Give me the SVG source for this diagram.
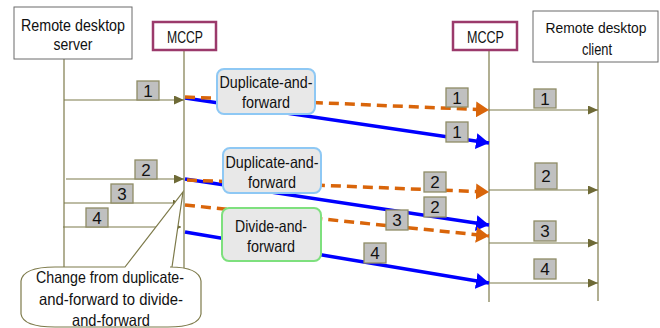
<svg xmlns="http://www.w3.org/2000/svg" width="660" height="328" viewBox="0 0 660 328">
<defs>
<style>
text{font-family:"Liberation Sans Narrow","Liberation Sans",Arial,sans-serif;fill:#111;text-anchor:middle}
.t{font-size:16.5px}
.n{font-size:17px}
.life{stroke:#7d7a4a;stroke-width:1.2;fill:none}
.msg{stroke:#7d7a4a;stroke-width:1.2;fill:none}
.ent{fill:#fff;stroke:#6b6b6b;stroke-width:1}
.mccp{fill:#fff;stroke:#9b3a6b;stroke-width:2.5}
.num{fill:#c0c0c0;stroke:#8f8c66;stroke-width:1.3}
.blue{stroke:#0000ff;stroke-width:3.5;fill:none}
.orange{stroke:#d9650a;stroke-width:3.5;fill:none;stroke-dasharray:10 6}
.mode{fill:#e8e8e8;stroke-width:2}
</style>
<marker id="ao" markerUnits="userSpaceOnUse" markerWidth="14" markerHeight="16" refX="13" refY="8" orient="auto"><path d="M0,0 L13,8 L0,16 Z" fill="#d9650a"/></marker>
<marker id="ab" markerUnits="userSpaceOnUse" markerWidth="14" markerHeight="16" refX="13" refY="8" orient="auto"><path d="M0,0 L13,8 L0,16 Z" fill="#0000ff"/></marker>
<marker id="ag" markerUnits="userSpaceOnUse" markerWidth="11" markerHeight="9" refX="10" refY="4.5" orient="auto"><path d="M0,0 L10,4.5 L0,9 Z" fill="#6e6a36"/></marker>
<marker id="as" markerUnits="userSpaceOnUse" markerWidth="7" markerHeight="7" refX="6" refY="3.5" orient="auto"><path d="M0,0 L6,3.5 L0,7 Z" fill="#6e6a36"/></marker>
</defs>

<g id="lifelines">
<line class="life" x1="64" y1="59" x2="64" y2="268"/>
<line class="life" x1="184" y1="50" x2="184" y2="268"/>
<line class="life" x1="489" y1="50" x2="489" y2="302"/>
<line class="life" x1="598" y1="62" x2="598" y2="301"/>
</g>

<g id="server"><rect class="ent" x="14" y="7" width="118" height="52"/><text class="t" x="73" y="31" textLength="104" lengthAdjust="spacingAndGlyphs">Remote desktop</text><text class="t" x="73" y="50" textLength="39" lengthAdjust="spacingAndGlyphs">server</text></g>
<g id="mccp-left"><rect class="mccp" x="153" y="22" width="63" height="28"/><text class="t" x="185" y="43" textLength="36" lengthAdjust="spacingAndGlyphs">MCCP</text></g>
<g id="mccp-right"><rect class="mccp" x="453" y="22" width="64" height="28"/><text class="t" x="485.5" y="43" textLength="37" lengthAdjust="spacingAndGlyphs">MCCP</text></g>
<g id="client"><rect class="ent" x="533" y="11" width="125" height="51"/><text x="596" y="33" font-size="15.5" textLength="101" lengthAdjust="spacingAndGlyphs">Remote desktop</text><text class="t" x="597" y="55" textLength="30" lengthAdjust="spacingAndGlyphs">client</text></g>

<g id="connectors">
<line class="msg" x1="64" y1="100" x2="184" y2="100" marker-end="url(#ag)"/>
<line class="msg" x1="66" y1="179" x2="184" y2="179" marker-end="url(#ag)"/>
<line class="msg" x1="64" y1="203" x2="179" y2="203" marker-end="url(#as)"/>
<line class="msg" x1="63" y1="227" x2="181" y2="227" marker-end="url(#as)"/>
<line class="msg" x1="489" y1="110" x2="598" y2="110" marker-end="url(#ag)"/>
<line class="msg" x1="489" y1="190" x2="598" y2="190" marker-end="url(#ag)"/>
<line class="msg" x1="489" y1="243" x2="598" y2="243" marker-end="url(#ag)"/>
<line class="msg" x1="489" y1="283" x2="598" y2="283" marker-end="url(#ag)"/>
<line class="blue" x1="185" y1="98" x2="489" y2="143" marker-end="url(#ab)"/>
<line class="orange" x1="185" y1="97" x2="489" y2="110" marker-end="url(#ao)"/>
<line class="blue" x1="185" y1="179" x2="489" y2="225" marker-end="url(#ab)"/>
<line class="orange" x1="187" y1="180" x2="489" y2="192" marker-end="url(#ao)"/>
<line class="orange" x1="185" y1="205" x2="489" y2="236" marker-end="url(#ao)"/>
<line class="blue" x1="185" y1="232" x2="489" y2="283" marker-end="url(#ab)"/>
</g>

<g id="labels">
<rect class="num" x="137" y="81" width="22" height="19"/><text class="n" x="148" y="97">1</text>
<rect class="num" x="135" y="160" width="22" height="19"/><text class="n" x="146" y="176">2</text>
<rect class="num" x="111" y="184" width="22" height="19"/><text class="n" x="122" y="200">3</text>
<rect class="num" x="86" y="208" width="22" height="19"/><text class="n" x="97" y="224">4</text>
<rect class="num" x="446" y="88" width="22" height="19"/><text class="n" x="457" y="104">1</text>
<rect class="num" x="446" y="122" width="22" height="20"/><text class="n" x="457" y="138">1</text>
<rect class="num" x="534" y="89" width="22" height="19"/><text class="n" x="545" y="105">1</text>
<rect class="num" x="424" y="172" width="22" height="20"/><text class="n" x="435" y="188">2</text>
<rect class="num" x="424" y="197" width="22" height="20"/><text class="n" x="435" y="213">2</text>
<rect class="num" x="535" y="163" width="22" height="26"/><text class="n" x="546" y="182">2</text>
<rect class="num" x="386" y="210" width="22" height="20"/><text class="n" x="397" y="226">3</text>
<rect class="num" x="534" y="221" width="22" height="20"/><text class="n" x="545" y="237">3</text>
<rect class="num" x="364" y="243" width="22" height="20"/><text class="n" x="375" y="259">4</text>
<rect class="num" x="534" y="259" width="22" height="20"/><text class="n" x="545" y="275">4</text>
</g>

<g id="dup1"><rect class="mode" x="217" y="69" width="98" height="45" rx="7" stroke="#8ec8f4"/><text class="t" x="266" y="88" textLength="93" lengthAdjust="spacingAndGlyphs">Duplicate-and-</text><text class="t" x="266" y="108" textLength="48" lengthAdjust="spacingAndGlyphs">forward</text></g>
<g id="dup2"><rect class="mode" x="223" y="148" width="98" height="45" rx="7" stroke="#8ec8f4"/><text class="t" x="272" y="168" textLength="93" lengthAdjust="spacingAndGlyphs">Duplicate-and-</text><text class="t" x="272" y="188" textLength="48" lengthAdjust="spacingAndGlyphs">forward</text></g>
<g id="divide"><rect class="mode" x="222" y="208" width="99" height="53" rx="7" stroke="#7ee07e"/><text class="t" x="271" y="232" textLength="72" lengthAdjust="spacingAndGlyphs">Divide-and-</text><text class="t" x="271" y="252" textLength="48" lengthAdjust="spacingAndGlyphs">forward</text></g>

<g id="callout">
<path d="M125,267 L183,192 L172,267 L170,267 Q199,267 201,281 L201,314 Q199,327 168,327 L55,327 Q23,327 21,314 L21,281 Q23,267 55,267 Z" fill="#fff" stroke="#7d7a4a" stroke-width="1.2"/>
<text class="t" x="110" y="283" textLength="148" lengthAdjust="spacingAndGlyphs">Change from duplicate-</text>
<text class="t" x="111" y="305" textLength="144" lengthAdjust="spacingAndGlyphs">and-forward to divide-</text>
<text class="t" x="111" y="326" textLength="78" lengthAdjust="spacingAndGlyphs">and-forward</text>
</g>
</svg>
